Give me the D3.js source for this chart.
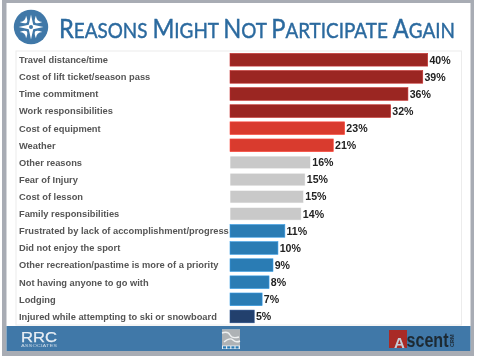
<!DOCTYPE html>
<html>
<head>
<meta charset="utf-8">
<script src="https://cdn.jsdelivr.net/npm/d3@7"></script>
<style>
    html, body { margin: 0; padding: 0; background: #fff; }
    svg { display: block; }
</style>
</head>
<body>
<svg id="chart"></svg>
<script>
const reasons = [
    'Travel distance/time',
    'Cost of lift ticket/season pass',
    'Time commitment',
    'Work responsibilities',
    'Cost of equipment',
    'Weather',
    'Other reasons',
    'Fear of Injury',
    'Cost of lesson',
    'Family responsibilities',
    'Frustrated by lack of accomplishment/progress',
    'Did not enjoy the sport',
    'Other recreation/pastime is more of a priority',
    'Not having anyone to go with',
    'Lodging',
    'Injured while attempting to ski or snowboard'
];
// bar lengths as measured, the printed labels are rounded
const values = [40, 39, 36, 32.5, 23.2, 20.9, 16.3, 15.2, 14.9, 14.4, 11.1, 9.7, 8.7, 7.9, 6.5, 4.9];
const valueLabels = ['40%', '39%', '36%', '32%', '23%', '21%', '16%', '15%', '15%', '14%', '11%', '10%', '9%', '8%', '7%', '5%'];
const groups = ['a', 'a', 'a', 'a', 'b', 'b', 'c', 'c', 'c', 'c', 'd', 'd', 'd', 'd', 'd', 'e'];
const groupKeys = ['a', 'b', 'c', 'd', 'e'];
const groupColors = ['#9b2624', '#d93a2f', '#c9c9c9', '#2b7bb4', '#203f6d'];
const titleWords = ['Reasons', 'Might', 'Not', 'Participate', 'Again'];

init();

function init() {
    const w = 478, h = 361;
    const svg = d3.select('#chart').attr('width', w).attr('height', h);

    // the reference is a soft screenshot of a slide
    svg.append('defs').append('filter').attr('id', 'soft')
        .append('feGaussianBlur').attr('stdDeviation', 0.35);

    const root = svg.append('g').attr('filter', 'url(#soft)');

    // slide frame and footer
    root.append('rect').attr('x', 2).attr('y', 0).attr('width', 472).attr('height', 356).attr('fill', '#a8acb4');
    root.append('rect').attr('x', 6.5).attr('y', 3).attr('width', 464).attr('height', 348).attr('fill', '#fff');
    root.append('rect').attr('x', 6.5).attr('y', 326).attr('width', 464).attr('height', 25).attr('fill', '#3f78a8');

    // plot frame
    root.append('rect').attr('x', 16).attr('y', 51).attr('width', 445.5).attr('height', 274)
        .attr('fill', 'none').attr('stroke', '#ececec').attr('stroke-width', 1);

    const x = d3.scaleLinear().domain([0, 40]).range([230, 427.7]);
    const y = d3.scaleBand().domain(reasons).range([51.2, 325]).paddingInner(0.257).paddingOuter(0.128);
    const color = d3.scaleOrdinal().domain(groupKeys).range(groupColors);

    const rows = root.append('g').selectAll('g').data(reasons).join('g');

    rows.append('rect')
        .attr('x', x(0))
        .attr('y', d => y(d))
        .attr('width', (d, i) => x(values[i]) - x(0))
        .attr('height', y.bandwidth())
        .attr('fill', (d, i) => color(groups[i]))
        .attr('stroke', (d, i) => d3.color(color(groups[i])).brighter(0.7))
        .attr('stroke-width', 0.6);

    rows.append('text')
        .attr('x', 19)
        .attr('y', d => y(d) + y.bandwidth() / 2)
        .attr('dy', '0.36em')
        .attr('font-family', '"Liberation Sans", Arial, sans-serif')
        .attr('font-weight', 'bold')
        .attr('font-size', 9.3)
        .attr('fill', '#555')
        .text(d => d);

    rows.append('text')
        .attr('x', (d, i) => x(values[i]) + 1.7)
        .attr('y', d => y(d) + y.bandwidth() / 2)
        .attr('dy', '0.36em')
        .attr('font-family', '"Liberation Sans", Arial, sans-serif')
        .attr('font-weight', 'bold')
        .attr('font-size', 10.6)
        .attr('fill', '#222')
        .text((d, i) => valueLabels[i]);

    // title in small caps, squeezed to the width it has in the slide
    const title = root.append('text')
        .attr('font-family', 'Lato, sans-serif')
        .attr('fill', '#2c6a9f')
        .attr('stroke', '#2c6a9f')
        .attr('stroke-width', 0.45);
    titleWords.forEach((word, i) => {
        title.append('tspan').attr('font-size', 27.5).text(word[0]);
        title.append('tspan').attr('font-size', 22)
            .text(word.slice(1).toUpperCase() + (i < titleWords.length - 1 ? ' ' : ''));
    });
    const titleWidth = title.node().getComputedTextLength();
    title.attr('transform', 'translate(59,38) scale(' + (396 / titleWidth) + ',1)');

    drawBadge(root);
    drawLogos(root);
}

function drawBadge(root) {
    const g = root.append('g').attr('transform', 'translate(31,27)');
    g.append('circle').attr('r', 17.2).attr('fill', '#3f78a8');
    // four pointed star
    g.append('path')
        .attr('d', 'M0,-12.5 L2.2,-2.2 L12.5,0 L2.2,2.2 L0,12.5 L-2.2,2.2 L-12.5,0 L-2.2,-2.2 Z')
        .attr('fill', '#fff');
    g.append('circle').attr('r', 2).attr('fill', '#3f78a8');
    // curved blades in the corners
    [45, 135, 225, 315].forEach(a => {
        g.append('path')
            .attr('transform', 'rotate(' + a + ')')
            .attr('d', 'M-4.5,-11.5 Q0,-7.5 4.5,-11.5 Q2.5,-6.5 0,-6 Q-2.5,-6.5 -4.5,-11.5 Z')
            .attr('fill', '#fff');
    });
}

function drawLogos(root) {
    // RRC Associates
    root.append('text')
        .attr('x', 21).attr('y', 341.5)
        .attr('font-family', '"Liberation Sans", Arial, sans-serif')
        .attr('font-size', 14)
        .attr('textLength', 36)
        .attr('lengthAdjust', 'spacingAndGlyphs')
        .attr('fill', '#e8eef4')
        .attr('stroke', '#e8eef4')
        .attr('stroke-width', 0.25)
        .text('RRC');
    root.append('text')
        .attr('x', 21).attr('y', 346.5)
        .attr('font-family', '"Liberation Sans", Arial, sans-serif')
        .attr('font-size', 3.8)
        .attr('textLength', 36)
        .attr('lengthAdjust', 'spacingAndGlyphs')
        .attr('fill', '#c9d8e6')
        .text('ASSOCIATES');

    // middle mark
    root.append('rect').attr('x', 222).attr('y', 329.5).attr('width', 18).attr('height', 19.5).attr('fill', '#e4ebf1');
    root.append('rect').attr('x', 222).attr('y', 329.5).attr('width', 18).attr('height', 16).attr('fill', '#aeb2b5');
    root.append('path')
        .attr('d', 'M222,333 Q228,331 230,335 T239,337 M224,342 Q230,337 233,340 T240,341')
        .attr('fill', 'none').attr('stroke', '#eef0f1').attr('stroke-width', 1.4);
    d3.range(4).forEach(i => {
        root.append('rect').attr('x', 223 + i * 4.2).attr('y', 346.3).attr('width', 3).attr('height', 2.2).attr('fill', '#2b7bb4');
    });

    // Ascent CRM
    root.append('rect').attr('x', 389).attr('y', 330).attr('width', 18).attr('height', 18).attr('fill', '#a92b28');
    root.append('text')
        .attr('x', 394).attr('y', 347.5)
        .attr('font-family', '"Liberation Sans", Arial, sans-serif')
        .attr('font-weight', 'bold')
        .attr('font-size', 15)
        .attr('fill', '#c5ccd6')
        .text('A');
    root.append('text')
        .attr('x', 406.5).attr('y', 347.3)
        .attr('font-family', '"Liberation Sans", Arial, sans-serif')
        .attr('font-weight', 'bold')
        .attr('font-size', 20)
        .attr('textLength', 42)
        .attr('lengthAdjust', 'spacingAndGlyphs')
        .attr('fill', '#1f2933')
        .text('scent');
    root.append('text')
        .attr('transform', 'translate(454,347) rotate(-90)')
        .attr('font-family', '"Liberation Sans", Arial, sans-serif')
        .attr('font-weight', 'bold')
        .attr('font-size', 5.5)
        .attr('fill', '#1f2933')
        .text('CRM');
}
</script>
</body>
</html>
